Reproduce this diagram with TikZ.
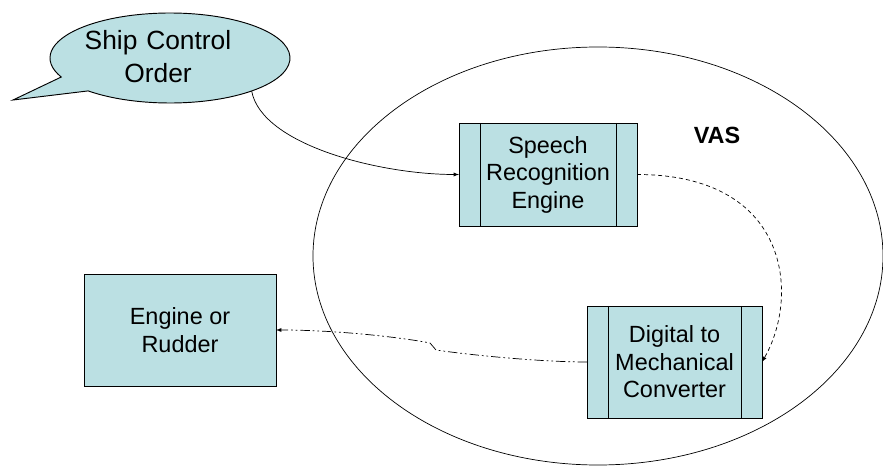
\documentclass[tikz,border=0pt]{standalone}
\usepackage{fontspec}
\setmainfont{Liberation Sans}
\usetikzlibrary{arrows,shapes.geometric}
\definecolor{caixa}{HTML}{BBE0E3}

\begin{document}
\begin{tikzpicture}[x=0.03cm, y=0.03cm, >=latex,
    every node/.style={font=\fontsize{20}{23.5}\selectfont, align=center},
    box/.style={draw, fill=caixa, line width=0.8pt, inner sep=0pt, outer sep=0pt},
    procbox/.style={box, path picture={
        \draw ([xshift=0.63cm]path picture bounding box.north west) -- ([xshift=0.63cm]path picture bounding box.south west);
        \draw ([xshift=-0.63cm]path picture bounding box.north east) -- ([xshift=-0.63cm]path picture bounding box.south east);}},
    link/.style={->, line width=0.6pt}]
    \useasboundingbox (0,0) rectangle (883,466);

    % Balao
    \filldraw[fill=caixa, line width=0.8pt] ([shift={(227:120 and 45)}]170,408)
        arc[start angle=227, end angle=565, x radius=120, y radius=45] -- (13,366) -- cycle;
    \node[ellipse, minimum width=7.2cm, minimum height=2.7cm, inner sep=0pt, outer sep=0pt,
        label={[xshift=-0.36cm, yshift=0.05cm, text width=5cm, align=center, font=\fontsize{22.5}{28}\selectfont]center:Ship Control\\Order}] (ordem) at (170,408) {};

    % VAS
    \draw[line width=0.6pt] (598,210) ellipse [x radius=285, y radius=209];
    \node[font=\fontsize{20}{23.5}\selectfont\bfseries] (vas) at (717,331) {VAS};

    % Blocos
    \node[procbox, minimum width=5.34cm, minimum height=3.09cm] (sre) at (548,291.5) {Speech\\Recognition\\Engine};
    \node[procbox, minimum width=5.25cm, minimum height=3.36cm] (dmc) at (674.5,104) {Digital to\\Mechanical\\Converter};
    \node[box, minimum width=5.76cm, minimum height=3.36cm] (leme) at (180,136) {Engine or\\Rudder};

    % Ligacoes
    \draw[link] (ordem.-22) .. controls +(10,-54) and +(-79,0) .. (sre.west);
    \draw[link, dash pattern=on 3.4pt off 2.6pt] (sre.east) .. controls +(153,0) and +(38,66) .. (dmc.east);
    \draw[link, dash pattern=on 8pt off 2.5pt on 1.5pt off 2.5pt on 1.5pt off 2.5pt]
        (dmc.west) .. controls (540,104) and (470,111) .. (436,116) -- (430,123)
        .. controls (405,128) and (340,136) .. (leme.east);
\end{tikzpicture}
\end{document}
